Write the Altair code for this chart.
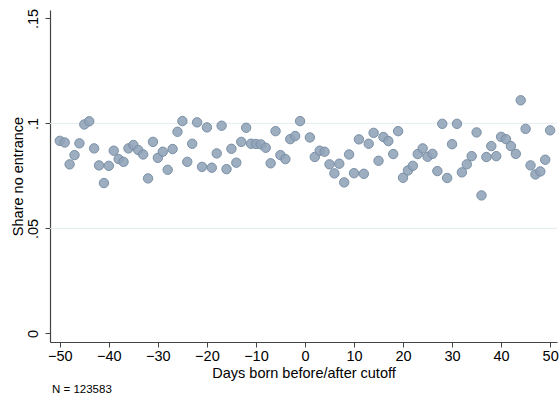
import altair as alt
import pandas as pd

# Days relative to cutoff (day 0 not plotted)
days_before = list(range(-50, 0))
days_after = list(range(1, 51))

share_before = [
    0.0917, 0.0909, 0.0805, 0.0849, 0.0905, 0.0995, 0.1010, 0.0881, 0.0800, 0.0716,
    0.0798, 0.0870, 0.0830, 0.0817, 0.0881, 0.0897, 0.0873, 0.0852, 0.0738, 0.0912,
    0.0836, 0.0865, 0.0779, 0.0878, 0.0960, 0.1011, 0.0817, 0.0903, 0.1005, 0.0793,
    0.0981, 0.0789, 0.0857, 0.0989, 0.0782, 0.0879, 0.0813, 0.0912, 0.0979, 0.0903,
    0.0902, 0.0900, 0.0884, 0.0810, 0.0963, 0.0849, 0.0830, 0.0925, 0.0940, 0.1011,
]
share_after = [
    0.0933, 0.0840, 0.0870, 0.0865, 0.0805, 0.0762, 0.0808, 0.0719, 0.0852, 0.0763,
    0.0924, 0.0760, 0.0903, 0.0955, 0.0822, 0.0935, 0.0916, 0.0854, 0.0963, 0.0741,
    0.0776, 0.0798, 0.0854, 0.0881, 0.0841, 0.0855, 0.0773, 0.0998, 0.0740, 0.0901,
    0.0998, 0.0767, 0.0805, 0.0844, 0.0957, 0.0657, 0.0840, 0.0892, 0.0844, 0.0936,
    0.0925, 0.0892, 0.0855, 0.1110, 0.0974, 0.0800, 0.0757, 0.0771, 0.0827, 0.0967,
]

x_ticks = [-50, -40, -30, -20, -10, 0, 10, 20, 30, 40, 50]
y_ticks = [0, 0.05, 0.1, 0.15]
grid_values = [0.05, 0.1]
x_title = "Days born before/after cutoff"
y_title = "Share no entrance"
note = "N = 123583"

FONT = "Liberation Sans"

df = pd.DataFrame({"day": days_before + days_after,
                   "share": share_before + share_after})
grid_df = pd.DataFrame({"share": grid_values})
note_df = pd.DataFrame({"note": [note]})

x_scale = alt.Scale(domain=[-52, 51.4], nice=False, zero=False)
y_scale = alt.Scale(domain=[-0.0041, 0.154], nice=False, zero=False)

x_axis = alt.Axis(values=x_ticks, title=x_title, grid=False,
                  labelFontSize=14.5, titleFontSize=14.5, labelFont=FONT, titleFont=FONT,
                  labelColor="black", titleColor="black", labelPadding=2,
                  tickSize=5, tickColor="#444", domainColor="#444", domainWidth=1.2,
                  titleY=24, titleBaseline="top", titleFontWeight="normal",
                  labelFlush=False)
y_axis = alt.Axis(values=y_ticks, title=y_title, grid=False,
                  labelExpr="substring(format(datum.value, '.2~f'), datum.value == 0 ? 0 : 1)",
                  labelAngle=270, labelAlign="center", labelBaseline="bottom",
                  labelFontSize=14.5, titleFontSize=14.5, labelFont=FONT, titleFont=FONT,
                  labelColor="black", titleColor="black", labelPadding=5,
                  tickSize=5, tickColor="#444", domainColor="#444", domainWidth=1.2,
                  titleAngle=270, titleAlign="center", titleBaseline="bottom",
                  titleX=-25, titleY=166, titleFontWeight="normal", labelFlush=False)

grid = alt.Chart(grid_df).mark_rule(color="#e4ecee", strokeWidth=1).encode(
    y=alt.Y("share:Q", scale=y_scale, axis=y_axis)
)

points = alt.Chart(df).mark_point(
    shape="circle", filled=True, size=88, fill="#8fa3b8", fillOpacity=0.88,
    stroke="#7a8fa5", strokeWidth=1, opacity=1
).encode(
    x=alt.X("day:Q", scale=x_scale, axis=x_axis),
    y=alt.Y("share:Q", scale=y_scale, axis=y_axis),
)

note_text = alt.Chart(note_df).mark_text(
    align="left", baseline="middle", fontSize=11.5, font=FONT, color="black"
).encode(x=alt.value(2), y=alt.value(380), text="note:N")

chart = alt.layer(grid, points, note_text).properties(
    width=507, height=332,
    background="white",
    autosize=alt.AutoSizeParams(type="none"),
    padding={"left": 50, "top": 10, "right": 2, "bottom": 61},
).configure_view(stroke=None)

chart.save("out.html", embed_options={"renderer": "svg", "actions": False})
